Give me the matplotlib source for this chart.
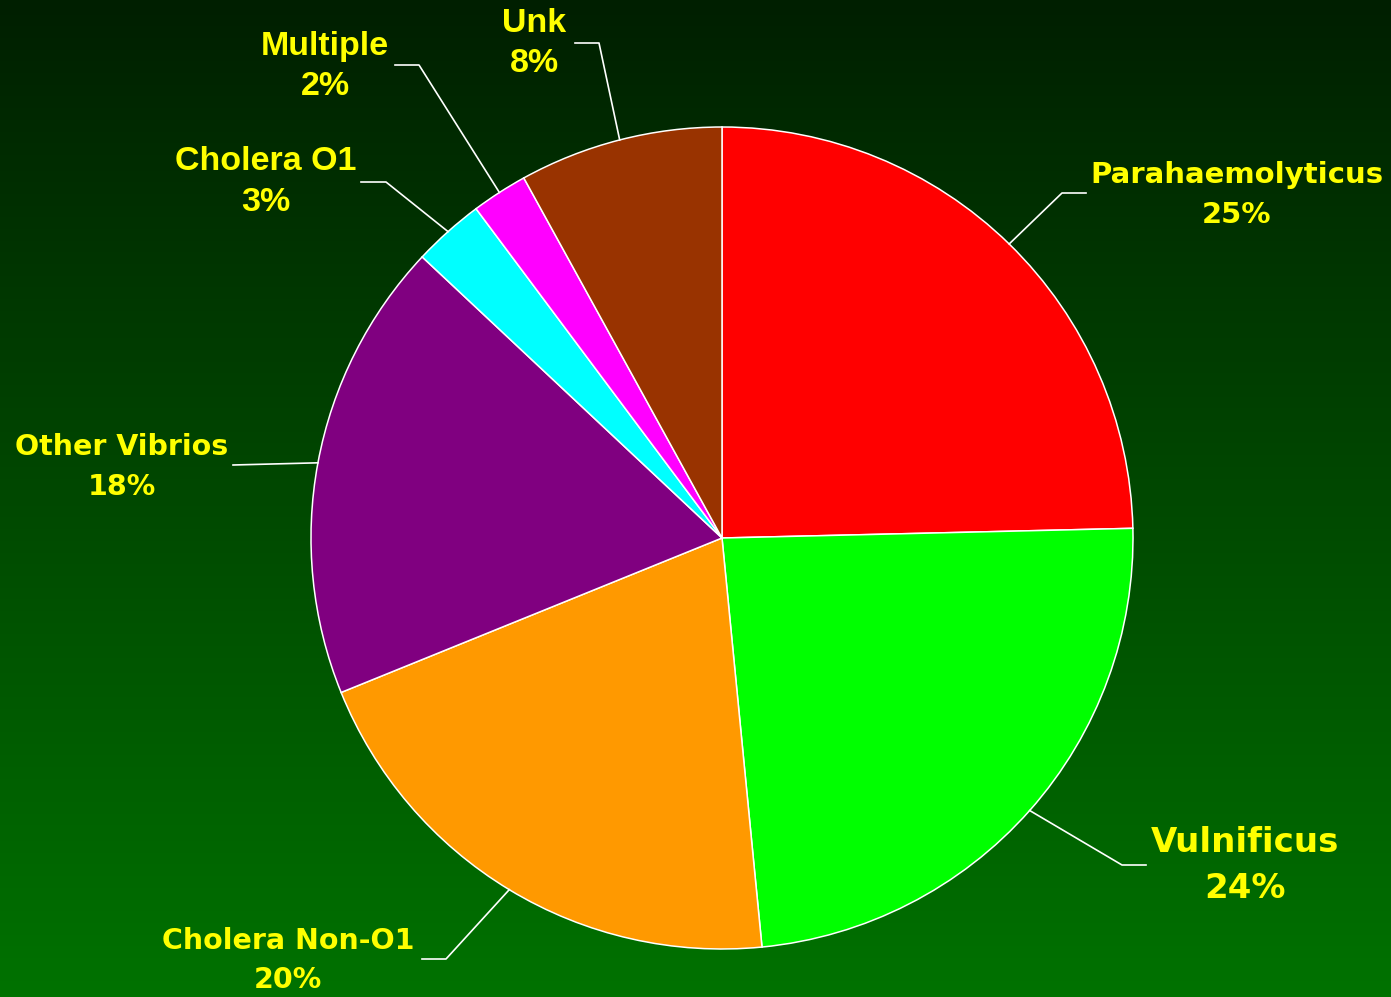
import numpy as np
import matplotlib
matplotlib.use("Agg")
import matplotlib.pyplot as plt

# ---- data ----
categories = ["Parahaemolyticus", "Vulnificus", "Cholera Non-O1", "Other Vibrios",
              "Cholera O1", "Multiple", "Unk"]
values = [24.6, 23.8, 20.4, 18.1, 2.8, 2.2, 8.0]
pct_labels = ["25%", "24%", "20%", "18%", "3%", "2%", "8%"]
colors = ["#FF0000", "#00FF00", "#FF9900", "#800080", "#00FFFF", "#FF00FF", "#993300"]

W, H = 1391, 997
fig = plt.figure(figsize=(W / 100, H / 100), dpi=100)
ax = fig.add_axes([0, 0, 1, 1])

# background gradient (dark green top -> green bottom)
grad = np.linspace(0, 1, 256).reshape(-1, 1)
top = np.array([0x00, 0x1f, 0x00]) / 255
bot = np.array([0x00, 0x72, 0x00]) / 255
img = top + (bot - top) * grad[..., None]
img = np.repeat(img, 2, axis=1)
ax.imshow(img, extent=[0, W, 0, H], origin="upper", aspect="auto", zorder=0)

cx, cy, R = 722, H - 538, 411
wedges, _ = ax.pie(values, colors=colors, startangle=90, counterclock=False,
                   center=(cx, cy), radius=R, frame=True,
                   wedgeprops=dict(edgecolor="white", linewidth=1.1))
ax.set_xlim(0, W)
ax.set_ylim(0, H)
ax.set_aspect("equal")
ax.axis("off")

layout = [
    dict(x=1237, y1=175, y2=215, fs=21, fam="DejaVu Sans", elbow=(1062, 193), end=(1086, 193)),
    dict(x=1245, y1=843, y2=889, fs=24.5, fam="DejaVu Sans", elbow=(1122, 865), end=(1146, 865)),
    dict(x=288, y1=941, y2=980, fs=20.5, fam="DejaVu Sans", elbow=(446, 959), end=(422, 959)),
    dict(x=122, y1=447, y2=487, fs=20.5, fam="DejaVu Sans", elbow=None, end=(233, 465)),
    dict(x=266, y1=162, y2=203, fs=24.5, fam="Liberation Sans", elbow=(386, 182), end=(361, 182)),
    dict(x=325, y1=47, y2=87, fs=24.5, fam="Liberation Sans", elbow=(419, 65), end=(395, 65)),
    dict(x=534, y1=24, y2=64, fs=24.5, fam="Liberation Sans", elbow=(599, 43), end=(575, 43)),
]

for w, name, pct, L in zip(wedges, categories, pct_labels, layout):
    ang = np.deg2rad((w.theta1 + w.theta2) / 2)
    sx, sy = cx + R * np.cos(ang), cy + R * np.sin(ang)
    xs = [sx]
    ys = [sy]
    if L["elbow"] is not None:
        xs.append(L["elbow"][0]); ys.append(H - L["elbow"][1])
    xs.append(L["end"][0]); ys.append(H - L["end"][1])
    ax.plot(xs, ys, color="white", lw=1.2, zorder=5)
    ax.text(L["x"], H - L["y1"], name, color="#FFFF00", fontsize=L["fs"], fontweight="bold",
            family=L["fam"], ha="center", va="center", zorder=6)
    ax.text(L["x"], H - L["y2"], pct, color="#FFFF00", fontsize=L["fs"], fontweight="bold",
            family=L["fam"], ha="center", va="center", zorder=6)

fig.savefig("out.png", dpi=100)
